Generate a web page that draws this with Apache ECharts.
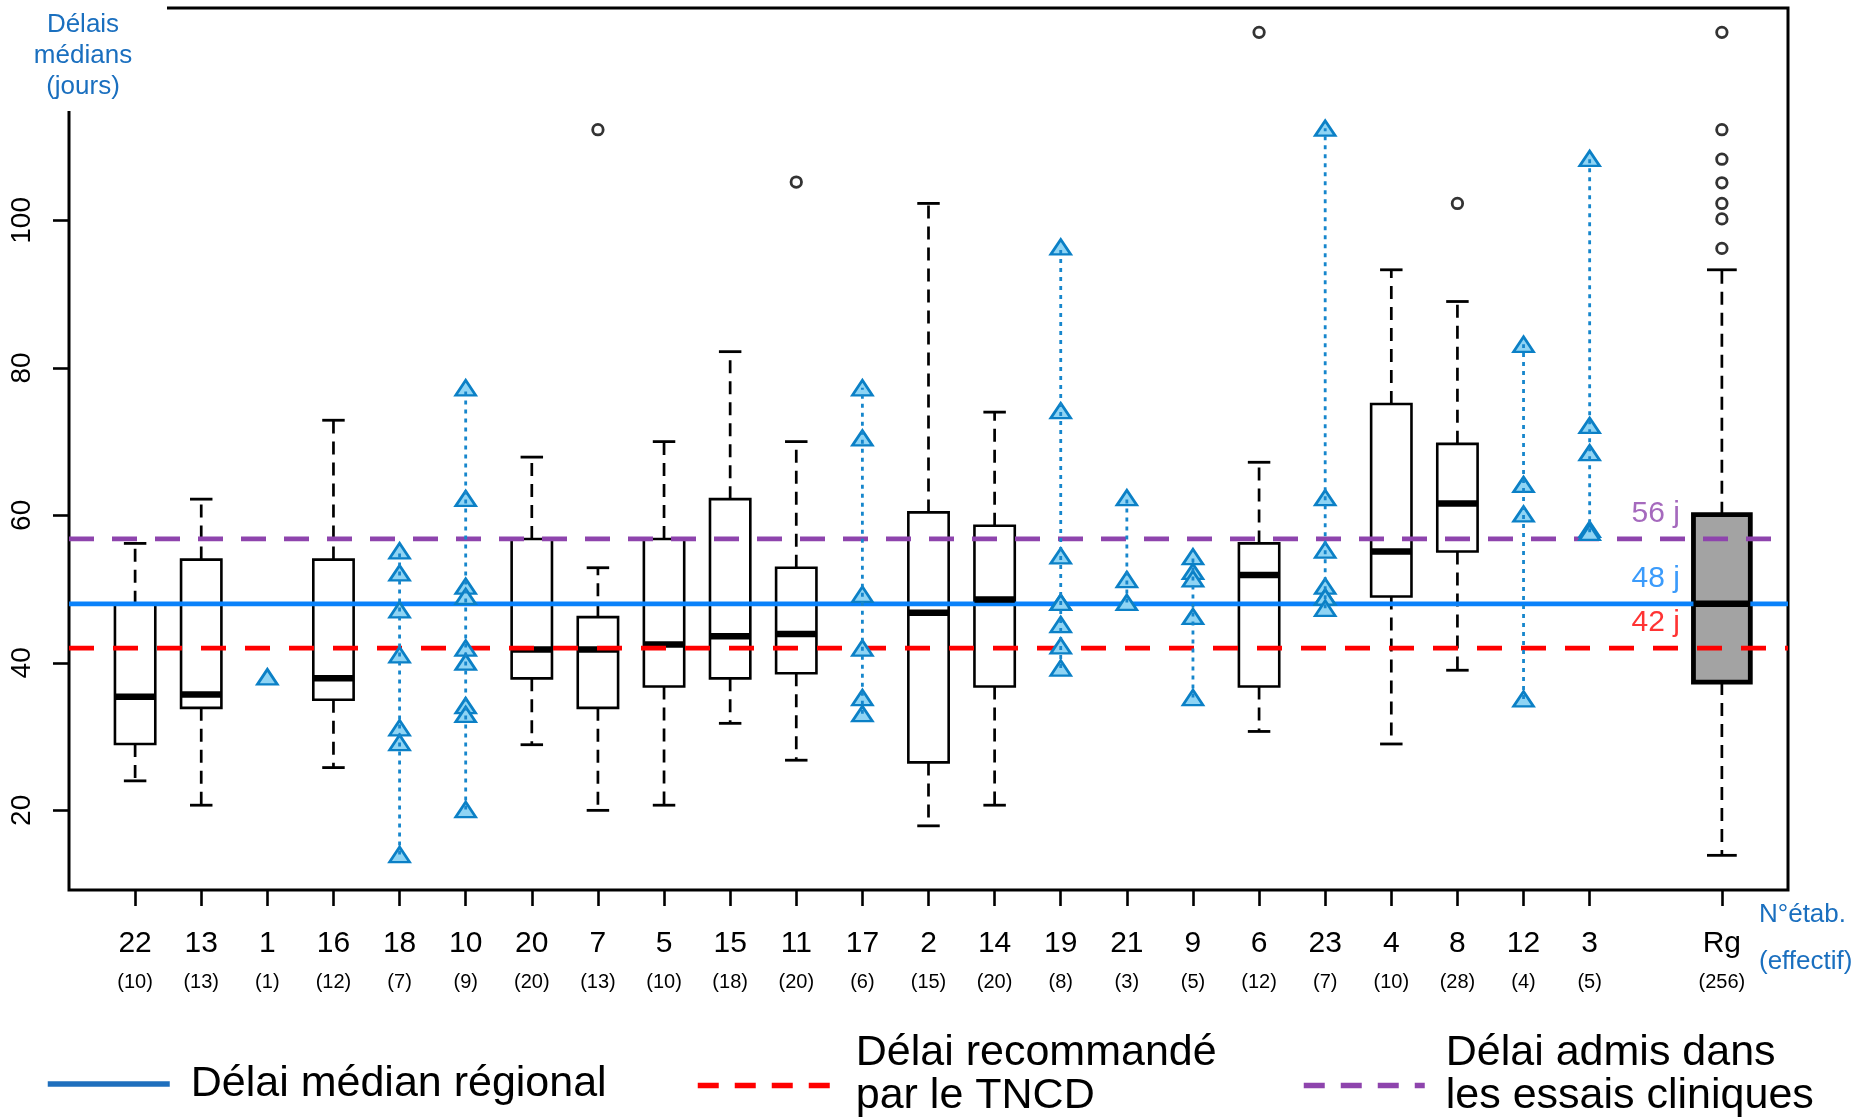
<!DOCTYPE html>
<html><head><meta charset="utf-8">
<script src="https://cdn.jsdelivr.net/npm/echarts@6/dist/echarts.min.js"></script>
<style>html,body{margin:0;padding:0;background:#fff}#c{width:1867px;height:1117px}</style>
</head><body><div id="c"></div>
<script>
// ---------- DATA ----------
const establishments = ['22','13','1','16','18','10','20','7','5','15','11','17','2','14','19','21','9','6','23','4','8','12','3'];
const counts = [10,13,1,12,7,9,20,13,10,18,20,6,15,20,8,3,5,12,7,10,28,4,5];
const regionLabel = 'Rg';
const regionCount = 256;

const yTicks = [20, 40, 60, 80, 100];

const boxGroups = ['22','13','16','20','7','5','15','11','2','14','6','4','8','Rg'];
const boxMin    = [24.0,20.7,25.8,28.9,20.0,20.7,31.8,26.8,17.9,20.7,30.7,29.0,39.0,13.9];
const boxQ1     = [29.0,33.9,35.0,37.9,33.9,36.8,37.9,38.6,26.5,36.8,36.8,49.0,55.1,37.4];
const boxMedian = [35.4,35.7,37.9,41.8,41.8,42.5,43.6,43.9,46.8,48.6,51.9,55.1,61.6,48.0];
const boxQ3     = [48.0,54.0,54.0,56.8,46.2,56.8,62.2,52.9,60.4,58.6,56.2,75.1,69.7,60.1];
const boxMax    = [56.2,62.2,72.9,67.9,52.9,70.0,82.2,70.0,102.3,74.0,67.2,93.3,89.0,93.3];

const outlierGroups = ['7','11','6','8','Rg','Rg','Rg','Rg','Rg','Rg','Rg'];
const outlierValues = [112.3,105.2,125.5,102.3,125.5,112.3,108.3,105.1,102.3,100.2,96.2];

const pointGroups = ['1','18','10','17','19','21','9','23','12','3'];
const pointValues = [
  [38.1],
  [55.2,52.2,47.2,41.1,31.2,29.2,14.0],
  [77.3,62.3,50.4,49.0,42.0,40.1,34.2,33.0,20.1],
  [77.3,70.5,49.3,42.0,35.3,33.1],
  [96.4,74.2,54.5,48.2,48.2,45.2,42.3,39.3],
  [62.4,51.3,48.2],
  [54.4,52.4,51.4,46.3,35.3],
  [112.5,62.4,55.3,50.4,48.9,48.9,47.4],
  [83.2,64.2,60.2,35.1],
  [108.4,72.2,68.5,58.1,57.7]
];

const refNames  = ['Délai médian régional', 'Délai recommandé\npar le TNCD', 'Délai admis dans\nles essais cliniques'];
const refValues = [48, 42, 56.8];
const refLabels = ['48 j', '42 j', '56 j'];

// ---------- HELPERS ----------
const FONT = '"Liberation Sans", Arial, sans-serif';
const xMax = establishments.length + 3;           // 26 slots wide
const gapSlot = establishments.length + 1;         // empty slot (24)
const regionSlot = establishments.length + 2;      // 25
function posOf(g) { return g === regionLabel ? regionSlot : establishments.indexOf(g) + 1; }
const xTickValues = establishments.map((_, i) => i + 1).concat([regionSlot]);
function labelOf(v) {
  if (v === regionSlot) return '{n|' + regionLabel + '}\n{c|(' + regionCount + ')}';
  const i = v - 1;
  return '{n|' + establishments[i] + '}\n{c|(' + counts[i] + ')}';
}

const boxData = boxGroups.map((g, i) => [posOf(g), boxMin[i], boxQ1[i], boxMedian[i], boxQ3[i], boxMax[i], g === regionLabel ? 1 : 0]);
const outlierData = outlierGroups.map((g, i) => [posOf(g), outlierValues[i]]);
const pointData = [];
const rangeData = [];
pointGroups.forEach((g, i) => {
  pointValues[i].forEach(v => pointData.push([posOf(g), v]));
  if (pointValues[i].length > 1) rangeData.push([posOf(g), Math.min(...pointValues[i]), Math.max(...pointValues[i])]);
});

function renderBox(params, api) {
  const x = api.value(0);
  const isR = api.value(6) === 1;
  const slot = api.size([1, 0])[0];
  const hw = slot * (isR ? 0.43 : 0.305);
  const cw = slot * (isR ? 0.225 : 0.17);
  const pMin = api.coord([x, api.value(1)]);
  const pQ1 = api.coord([x, api.value(2)]);
  const pQ3 = api.coord([x, api.value(4)]);
  const pMax = api.coord([x, api.value(5)]);
  const cx = pMin[0];
  const dash = { stroke: '#000', lineWidth: 2.7, lineDash: [13, 8] };
  const solid = { stroke: '#000', lineWidth: 2.8 };
  return {
    type: 'group',
    children: [
      { type: 'line', shape: { x1: cx, y1: pQ3[1], x2: cx, y2: pMax[1] }, style: dash },
      { type: 'line', shape: { x1: cx, y1: pQ1[1], x2: cx, y2: pMin[1] }, style: dash },
      { type: 'line', shape: { x1: cx - cw, y1: pMax[1], x2: cx + cw, y2: pMax[1] }, style: solid },
      { type: 'line', shape: { x1: cx - cw, y1: pMin[1], x2: cx + cw, y2: pMin[1] }, style: solid },
      { type: 'rect', shape: { x: cx - hw, y: pQ3[1], width: 2 * hw, height: pQ1[1] - pQ3[1] },
        style: { fill: isR ? '#a3a3a3' : 'rgba(255,255,255,0)', stroke: '#000', lineWidth: isR ? 4.8 : 2.6 } }
    ]
  };
}
function renderMedian(params, api) {
  const x = api.value(0);
  const isR = api.value(6) === 1;
  const slot = api.size([1, 0])[0];
  const hw = slot * (isR ? 0.43 : 0.305);
  const p = api.coord([x, api.value(3)]);
  return { type: 'line', shape: { x1: p[0] - hw, y1: p[1], x2: p[0] + hw, y2: p[1] },
           style: { stroke: '#000', lineWidth: 6.5 } };
}
function renderRange(params, api) {
  const a = api.coord([api.value(0), api.value(1)]);
  const b = api.coord([api.value(0), api.value(2)]);
  return { type: 'line', shape: { x1: a[0], y1: a[1], x2: b[0], y2: b[1] },
           style: { stroke: '#1686cc', lineWidth: 2.8, lineDash: [4, 5] } };
}

const refColors = ['#0a82fa', '#ff0000', '#8e44ad'];
const refLineTypes = ['solid', [25, 19], [25, 18]];
const refZ = [3, 5, 5];
const legendColors = ['#1f6fbd', '#ff0000', '#8e44ad'];

function legendText(name) {
  const lines = name.split('\n');
  if (lines.length === 1) return '{a|' + lines[0] + '}';
  return lines.map(l => '{a|' + l + '}').join('\n') + '\n{s| }';
}

const option = {
  animation: false,
  backgroundColor: '#fff',
  textStyle: { fontFamily: FONT },
  grid: { left: 69, right: 79, top: 8, bottom: 227, show: true, borderColor: '#000', borderWidth: 3,
          backgroundColor: 'rgba(0,0,0,0)', outerBoundsMode: 'none', containLabel: false },
  xAxis: {
    type: 'value', min: 0, max: xMax,
    axisLine: { show: false },
    splitLine: { show: false },
    axisTick: { show: true, length: 16, customValues: xTickValues, lineStyle: { color: '#000', width: 2.6 } },
    axisLabel: {
      customValues: xTickValues, margin: 35, color: '#000', fontFamily: FONT,
      formatter: labelOf,
      rich: {
        n: { fontSize: 30, lineHeight: 38, color: '#000', fontFamily: FONT },
        c: { fontSize: 20, lineHeight: 38, color: '#000', fontFamily: FONT }
      }
    }
  },
  yAxis: {
    type: 'value', min: 9.2, max: 128.8,
    axisLine: { show: false },
    splitLine: { show: false },
    axisTick: { show: true, length: 16, customValues: yTicks, lineStyle: { color: '#000', width: 2.6 } },
    axisLabel: { customValues: yTicks, rotate: 90, fontSize: 28, color: '#000', fontFamily: FONT, margin: 33 }
  },
  legend: [0, 1, 2].map(i => ({
    data: [refNames[i]],
    left: [45, 695, 1301][i],
    top: i === 0 ? 1062.5 : 1031.5,
    padding: 0,
    selectedMode: false,
    itemWidth: [122, 133, 121][i],
    itemHeight: 6,
    itemStyle: { opacity: 0, borderWidth: 0, color: 'rgba(0,0,0,0)' },
    lineStyle: { color: legendColors[i], width: 5.5, type: i === 0 ? 'solid' : [21, 16], cap: 'butt' },
    formatter: legendText,
    textStyle: { fontSize: 43, lineHeight: 43, color: '#000', fontFamily: FONT,
                 padding: [0, 0, 0, i === 1 ? 20 : 16],
                 rich: { a: { fontSize: 43, lineHeight: 43, color: '#000', fontFamily: FONT },
                         s: { fontSize: 10, lineHeight: 22 } } }
  })),
  graphic: [
    { type: 'rect', z: 100, shape: { x: 0, y: 0, width: 167, height: 111 }, style: { fill: '#fff' } },
    { type: 'text', z: 101, x: 83, y: 9,
      style: { text: 'Délais\nmédians\n(jours)', fill: '#1a6fbf', fontSize: 26, fontFamily: FONT,
               align: 'center', verticalAlign: 'top', lineHeight: 31 } },
    { type: 'text', z: 101, x: 1759, y: 891.5,
      style: { text: 'N°étab.\n(effectif)', fill: '#1a6fbf', fontSize: 26, fontFamily: FONT,
               align: 'left', verticalAlign: 'top', lineHeight: 47 } }
  ],
  series: [
    { type: 'custom', name: 'boxes', z: 2, renderItem: renderBox, data: boxData, encode: { x: 0, y: [1, 5] }, silent: true },
    ...refValues.map((v, i) => ({
      type: 'line', name: refNames[i], z: refZ[i], symbol: 'none', silent: true,
      data: [[0, v], [xMax, v]],
      lineStyle: { color: refColors[i], width: 4.8, type: refLineTypes[i], cap: 'butt' },
      itemStyle: { color: refColors[i] }
    })),
    { type: 'custom', name: 'medians', z: 4, renderItem: renderMedian, data: boxData, encode: { x: 0, y: 3 }, silent: true },
    { type: 'scatter', name: 'outliers', z: 6, symbol: 'circle', symbolSize: 10.5, data: outlierData, silent: true,
      itemStyle: { color: 'rgba(0,0,0,0)', borderColor: '#000', borderWidth: 2.8 } },
    { type: 'scatter', name: 'points', z: 6, symbol: 'triangle', symbolSize: [20, 15], data: pointData, silent: true,
      itemStyle: { color: '#8fd4f4', borderColor: '#0b80c6', borderWidth: 2.6, opacity: 1 } },
    { type: 'custom', name: 'ranges', z: 7, renderItem: renderRange, data: rangeData, encode: { x: 0, y: [1, 2] }, silent: true },
    { type: 'scatter', name: 'refLabels', z: 8, symbolSize: 0, silent: true,
      data: refValues.map((v, i) => ({
        value: [gapSlot, v],
        label: { show: true, position: 'top', distance: 10, formatter: refLabels[i], color: refColors[i],
                 fontSize: 30, fontFamily: FONT }
      })),
      itemStyle: { color: 'rgba(0,0,0,0)' } }
  ]
};

const chart = echarts.init(document.getElementById('c'), null, { renderer: 'canvas' });
chart.setOption(option);
</script>
</body></html>
